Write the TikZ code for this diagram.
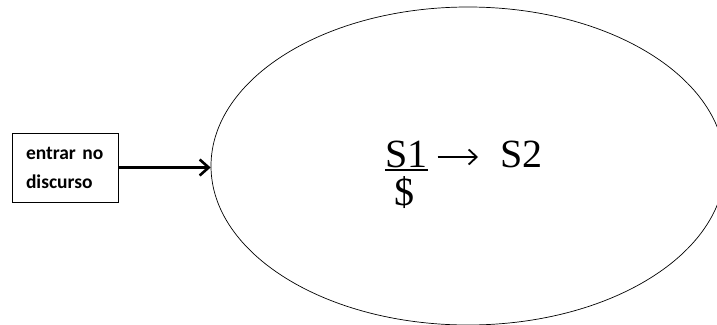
\documentclass[tikz,border=0pt]{standalone}
\usepackage{fontspec}
\setmainfont{Liberation Serif}
\newfontfamily\caixafont{Carlito}
\usetikzlibrary{arrows.meta, shapes.geometric}

\begin{document}
\begin{tikzpicture}[x=1pt, y=-1pt,
        caixa/.style={draw, line width=0.8pt, minimum width=106pt, minimum height=69pt,
            inner sep=0pt, align=left, text width=78pt,
            font=\caixafont\bfseries\fontsize{19.5}{29}\selectfont},
        elipse/.style={draw, ellipse, line width=0.7pt, minimum width=514pt,
            minimum height=318pt, inner sep=0pt},
        formula/.style={inner sep=0pt, font=\fontsize{40}{48}\selectfont},
        seta/.style={line width=2.8pt, -{Straight Barb[length=9pt, width=16pt, line width=2.6pt]}},
        flecha/.style={line width=2pt, -{Straight Barb[length=8pt, width=15pt, line width=1.8pt]}}]
                \useasboundingbox (0,0) rectangle (717,324);
                \clip (0,0) rectangle (717,324);
                \node[elipse] (elipse) at (468,166) {};
                \node[caixa] (entrar) at (65,167.5) {entrar no\\discurso};
                \draw[seta] (entrar.east) -- (elipse.west |- entrar.east);
                % formula inside the ellipse
                \node[formula, anchor=base west] (S1) at (385,167) {S1};
                \draw[line width=1.6pt] ([yshift=-3pt]S1.base west) -- ([yshift=-3pt]S1.base east);
                \node[formula, anchor=base] (cifrao) at (404,205) {\$};
                \node[formula, anchor=base west] (S2) at (500,167) {S2};
                \draw[flecha] ([shift={(10,-10)}]S1.base east) -- ([shift={(-22,-10)}]S2.base west);
            \end{tikzpicture}
\end{document}
